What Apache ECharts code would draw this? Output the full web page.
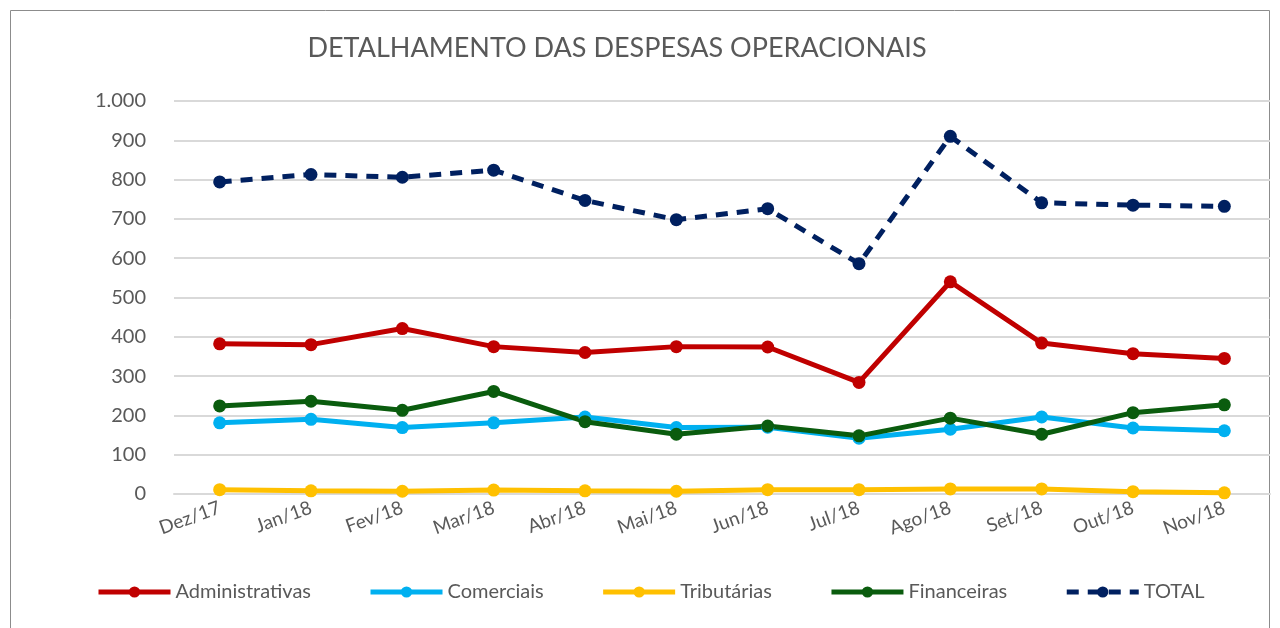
<!DOCTYPE html>
<html>
<head>
<meta charset="utf-8">
<script src="https://cdn.jsdelivr.net/npm/echarts@6/dist/echarts.min.js"></script>
<style>
  html, body { margin: 0; padding: 0; background: #fff; }
  #chart { width: 1280px; height: 628px; }
</style>
</head>
<body>
<div id="chart"></div>
<script>
// meses
var months = ['Dez/17', 'Jan/18', 'Fev/18', 'Mar/18', 'Abr/18', 'Mai/18',
              'Jun/18', 'Jul/18', 'Ago/18', 'Set/18', 'Out/18', 'Nov/18'];

// valores
var administrativas = [382, 380, 421, 375, 360, 375, 374, 284, 540, 384, 357, 345];
var comerciais      = [181, 190, 169, 181, 196, 169, 170, 142, 165, 196, 168, 161];
var tributarias     = [11, 8, 7, 10, 8, 7, 11, 11, 13, 13, 6, 3];
var financeiras     = [224, 236, 213, 261, 184, 152, 173, 148, 193, 152, 207, 227];
var total           = [794, 813, 806, 824, 747, 698, 726, 586, 910, 741, 735, 732];

var FONT = 'Lato, "Open Sans", sans-serif';
var TXT = '#595959';

function lineSeries(name, data, color, dashed) {
    return {
        name: name,
        type: 'line',
        data: data,
        symbol: 'circle',
        symbolSize: 13,
        lineStyle: { width: 5, color: color, type: dashed ? [12, 9] : 'solid' },
        itemStyle: { color: color },
        emphasis: { disabled: true }
    };
}

var chart = echarts.init(document.getElementById('chart'));

chart.setOption({
    animation: false,
    textStyle: { fontFamily: FONT },
    graphic: [{
        type: 'rect',
        shape: { x: 10.5, y: 10.5, width: 1259, height: 640 },
        style: { fill: 'none', stroke: '#8c8c8c', lineWidth: 1 },
        silent: true
    }],
    title: {
        text: 'DETALHAMENTO DAS DESPESAS OPERACIONAIS',
        left: 612,
        top: 30,
        textAlign: 'center',
        textStyle: { fontFamily: FONT, fontWeight: 'normal', fontSize: 27, color: TXT }
    },
    legend: {
        bottom: 21,
        left: 91,
        itemWidth: 72,
        itemHeight: 14,
        itemGap: 57,
        lineStyle: { width: 5 },
        textStyle: { fontFamily: FONT, fontSize: 20, color: TXT },
        data: ['Administrativas', 'Comerciais', 'Tributárias', 'Financeiras', 'TOTAL']
    },
    grid: { left: 174, right: 10, top: 101, bottom: 134, containLabel: false },
    xAxis: {
        type: 'category',
        data: months,
        boundaryGap: true,
        axisLine: { show: true, lineStyle: { color: '#d9d9d9', width: 2 } },
        axisTick: { show: false },
        axisLabel: { rotate: 20, fontSize: 19, color: TXT, margin: 13, fontFamily: FONT }
    },
    yAxis: {
        type: 'value',
        min: 0,
        max: 1000,
        interval: 100,
        axisLine: { show: false },
        axisTick: { show: false },
        splitLine: { lineStyle: { color: '#d9d9d9', width: 2 } },
        axisLabel: {
            fontSize: 20,
            color: TXT,
            margin: 28,
            fontFamily: FONT,
            formatter: function (v) {
                return v >= 1000 ? Math.floor(v / 1000) + '.' + String(v % 1000).padStart(3, '0') : String(v);
            }
        }
    },
    series: [
        lineSeries('Administrativas', administrativas, '#C00000'),
        lineSeries('Comerciais', comerciais, '#00B0F0'),
        lineSeries('Tributárias', tributarias, '#FFC000'),
        lineSeries('Financeiras', financeiras, '#0A5C0E'),
        lineSeries('TOTAL', total, '#002060', true)
    ]
});
</script>
</body>
</html>
